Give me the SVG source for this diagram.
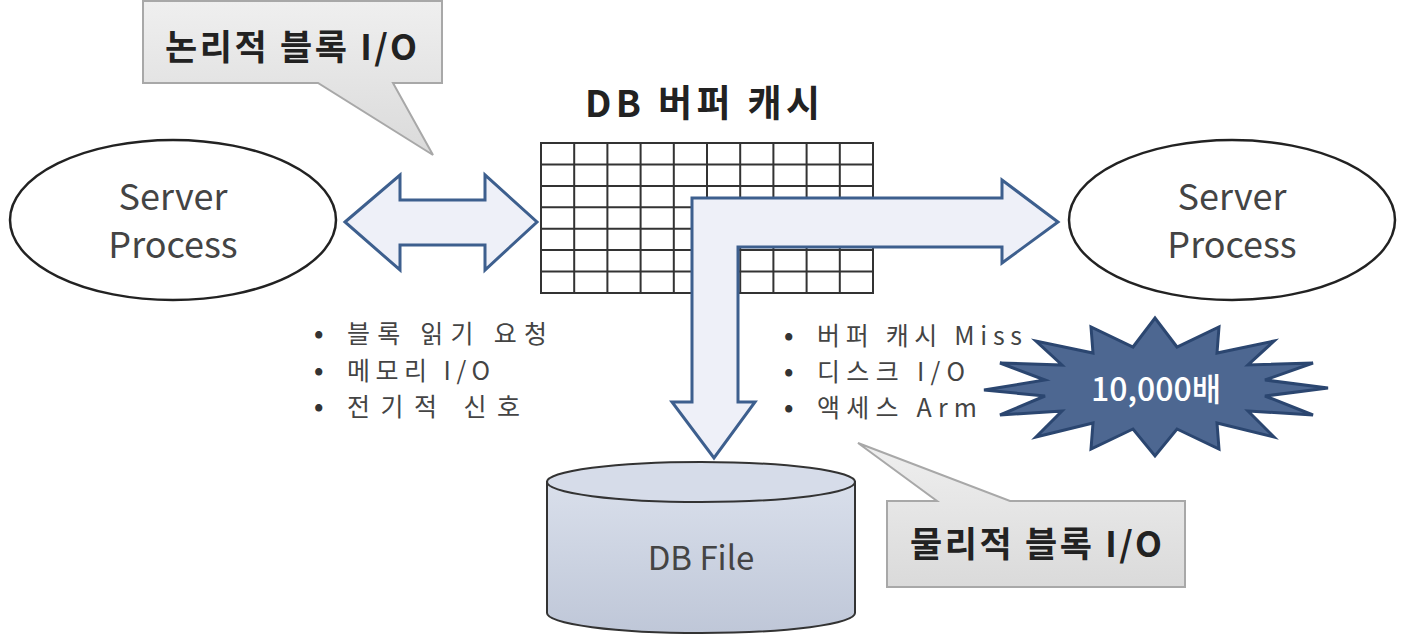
<svg xmlns="http://www.w3.org/2000/svg" width="1404" height="638" viewBox="0 0 1404 638">
<defs>
<linearGradient id="gCall" x1="0" y1="0" x2="0" y2="1"><stop offset="0" stop-color="#efefef"/><stop offset="1" stop-color="#dadada"/></linearGradient>
<linearGradient id="gCyl" x1="0" y1="0" x2="0" y2="1"><stop offset="0" stop-color="#d9dfeb"/><stop offset="1" stop-color="#bfc7d8"/></linearGradient>
<style>
.ko{font-family:"Noto Sans CJK KR","Noto Sans",sans-serif;}
.callout{fill:url(#gCall);stroke:#a8a8a8;stroke-width:2;}
.ctext{font-size:35px;font-weight:bold;fill:#222;}
.ell{fill:#fff;stroke:#222;stroke-width:2.5;}
.sp{font-size:36px;fill:#444;text-anchor:middle;}
.arrow{fill:#eef0f8;stroke:#3d5f8e;stroke-width:3;stroke-linejoin:miter;}
.grid{fill:none;stroke:#333;stroke-width:2;}
.bul{font-size:25px;fill:#444;}
.dot{font-size:25px;fill:#333;font-weight:bold;}
</style>
</defs>
<rect width="1404" height="638" fill="#fff"/>

<g id="callout-logical">
<path class="callout" d="M143,1 H442 V83 H393 L433,155 L318,83 H143 Z"/>
<text class="ko ctext" x="165" y="60" textLength="252" lengthAdjust="spacing">논리적 블록 I/O</text>
</g>

<g id="buffer-cache">
<text class="ko" x="585" y="117" font-size="37" font-weight="bold" fill="#222" textLength="235" lengthAdjust="spacing">DB 버퍼 캐시</text>
<rect class="grid" x="541" y="143" width="332" height="150" fill="#fff"/>
<path class="grid" d="M574.2,143V293M607.4,143V293M640.6,143V293M673.8,143V293M707,143V293M740.2,143V293M773.4,143V293M806.6,143V293M839.8,143V293M541,164.4H873M541,185.9H873M541,207.3H873M541,228.7H873M541,250.1H873M541,271.6H873"/>
</g>

<g id="server-process-left">
<ellipse class="ell" cx="173" cy="220" rx="163" ry="80"/>
<text class="ko sp" x="173" y="210">Server</text>
<text class="ko sp" x="173" y="258">Process</text>
</g>

<g id="server-process-right">
<ellipse class="ell" cx="1232" cy="220" rx="163" ry="80"/>
<text class="ko sp" x="1232" y="210">Server</text>
<text class="ko sp" x="1232" y="258">Process</text>
</g>

<g id="db-file">
<path d="M547,482 V613 A154,20 0 0 0 855,613 V482 Z" fill="url(#gCyl)" stroke="#333" stroke-width="2"/>
<ellipse cx="701" cy="482" rx="154" ry="20" fill="#d6dce9" stroke="#333" stroke-width="2"/>
<text class="ko" x="701" y="570" font-size="33" fill="#444" text-anchor="middle">DB File</text>
</g>

<g id="connectors">
<path class="arrow" d="M345,222 L400,175 V200 H485 V175 L537,222 L485,270 V245 H400 V270 Z"/>
<path class="arrow" d="M692,402 H672 L714,458 L755,402 H738 V247 H1002 V263 L1058,222 L1002,180 V198 H692 Z"/>
</g>

<g id="notes-logical">
<text class="ko dot" x="314" y="342">•</text>
<text class="ko bul" x="347" y="343" textLength="200" lengthAdjust="spacing">블록 읽기 요청</text>
<text class="ko dot" x="314" y="379">•</text>
<text class="ko bul" x="347" y="380" textLength="143" lengthAdjust="spacing">메모리 I/O</text>
<text class="ko dot" x="314" y="415">•</text>
<text class="ko bul" x="347" y="416" textLength="173" lengthAdjust="spacing">전기적 신호</text>
</g>

<g id="notes-physical">
<text class="ko dot" x="784" y="344">•</text>
<text class="ko bul" x="817" y="345" textLength="205" lengthAdjust="spacing">버퍼 캐시 Miss</text>
<text class="ko dot" x="784" y="380">•</text>
<text class="ko bul" x="817" y="381" textLength="148" lengthAdjust="spacing">디스크 I/O</text>
<text class="ko dot" x="784" y="416">•</text>
<text class="ko bul" x="817" y="417" textLength="160" lengthAdjust="spacing">액세스 Arm</text>
</g>

<g id="burst-10000">
<polygon points="1328,388 1265,396 1313,415 1248,411 1274,437 1217,423 1219,449 1177,429 1155,456 1133,429 1091,449 1093,423 1036,437 1062,411 1000,415 1045,396 984,390 1045,380 1000,363 1062,365 1036,341 1093,353 1091,327 1133,347 1155,318 1177,347 1219,327 1217,353 1274,341 1248,365 1313,363 1265,380" fill="#4d6791" stroke="#2b4670" stroke-width="3" stroke-linejoin="miter"/>
<text class="ko" x="1156" y="401" font-size="32" font-weight="500" fill="#fff" text-anchor="middle">10,000배</text>
</g>

<g id="callout-physical">
<path class="callout" d="M887,501 H937 L858,443 L1010,501 H1185 V587 H887 Z"/>
<text class="ko ctext" x="910" y="557" textLength="252" lengthAdjust="spacing">물리적 블록 I/O</text>
</g>
</svg>
